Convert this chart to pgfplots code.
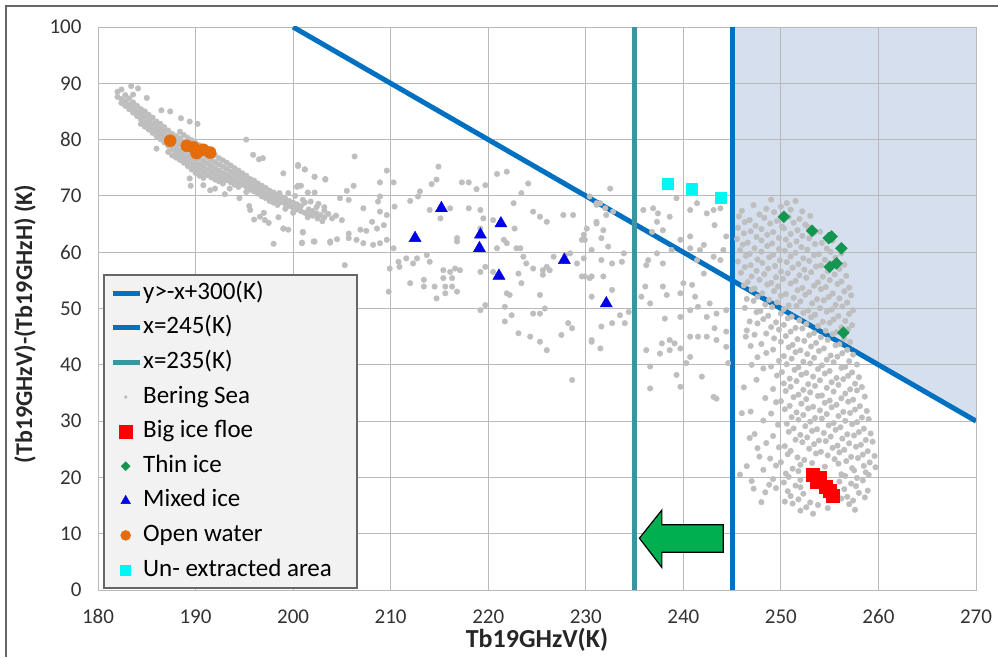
\documentclass[border=0pt]{standalone}
\usepackage{fontspec}
\setmainfont{Carlito}
\usepackage{pgfplots}
\pgfplotsset{compat=1.18}

\definecolor{dotgray}{RGB}{190,190,190}
\definecolor{lineblue}{RGB}{0,112,192}
\definecolor{lineteal}{RGB}{60,148,160}
\definecolor{shade}{RGB}{213,223,237}
\definecolor{floe}{RGB}{255,0,0}
\definecolor{thin}{RGB}{20,150,80}
\definecolor{mixed}{RGB}{0,0,230}
\definecolor{water}{RGB}{228,108,10}
\definecolor{unext}{RGB}{0,245,245}
\definecolor{arrowgreen}{RGB}{0,176,80}
\definecolor{legfill}{RGB}{242,242,242}

\begin{document}
\begin{tikzpicture}
\draw[gray!80!black, line width=1.2pt] (-92pt,-67pt) -- (-92pt,584pt) -- (900pt,584pt);
\begin{axis}[
    set layers,
    scale only axis,
    width=878pt, height=563pt,
    xmin=180, xmax=270, ymin=0, ymax=100,
    xtick={180,190,...,270}, ytick={0,10,...,100},
    grid=major,
    grid style={gray!55, line width=0.9pt},
    axis line style={gray!55, line width=0.9pt},
    major tick length=0pt,
    /pgf/number format/assume math mode=true,
    tick label style={font=\fontsize{21}{25}\selectfont, text=black!80},
    xticklabel style={yshift=-16pt},
    yticklabel style={xshift=-13pt},
    xlabel={\textbf{Tb19GHzV(K)}},
    ylabel={\textbf{(Tb19GHzV)-(Tb19GHzH) (K)}},
    label style={text=black!85},
    xlabel style={font=\fontsize{26}{30}\selectfont, at={(axis description cs:0.5,-0.0888)}, anchor=center},
    ylabel style={font=\fontsize{24}{28}\selectfont, at={(axis description cs:-0.0831,0.4725)}, anchor=center},
    legend image code/.code={\draw[mark repeat=2,mark phase=2,#1] plot coordinates {(0pt,0pt) (13pt,0pt) (27pt,0pt)};},
    legend cell align=left,
    legend style={at={(axis description cs:0.0068,0.5595)}, anchor=north west,
        draw=none, fill=none, inner xsep=6pt, inner ysep=7pt, row sep=12.6pt,
        font=\fontsize{25}{30}\selectfont,
        nodes={inner xsep=1pt, inner ysep=0pt, text height=17pt, text depth=5pt}},
]

% shaded region x>245 and y>-x+300
\addplot[fill=shade, draw=none, forget plot, on layer=axis background]
    coordinates {(245,55) (270,30) (270,100) (245,100)} --cycle;

\addplot[lineblue, line width=5pt] coordinates {(200,100) (270,30)};
\addplot[lineblue, line width=5pt] coordinates {(245,0) (245,100)};
\addplot[lineteal, line width=5pt] coordinates {(235,0) (235,100)};

% Bering Sea
\addplot[only marks, mark=*, mark size=2.8pt, color=dotgray,
    legend image post style={mark size=1.6pt}] coordinates {
(182.0,88.5)(182.0,87.6)(182.4,88.9)(182.4,87.2)(182.4,86.5)(182.8,87.9)(182.8,86.8)(182.8,86.0)
(183.2,87.3)(183.2,86.2)(183.2,85.4)(183.6,86.6)(183.6,85.6)(183.6,84.8)(183.6,88.0)(184.0,86.0)
(184.0,85.0)(184.0,84.2)(184.4,85.4)(184.4,84.5)(184.4,83.6)(184.4,82.8)(184.8,85.0)(184.8,84.0)
(184.8,83.0)(184.8,82.3)(185.2,84.4)(185.2,83.4)(185.2,82.5)(185.2,81.8)(185.6,83.9)(185.6,82.9)
(185.6,82.0)(185.6,81.2)(186.0,83.2)(186.0,82.3)(186.0,81.5)(186.0,80.6)(186.4,82.8)(186.4,81.8)
(186.4,81.0)(186.4,80.1)(186.8,82.2)(186.8,81.3)(186.8,80.4)(186.8,79.5)(187.2,81.6)(187.2,80.6)
(187.2,79.8)(187.2,78.9)(187.2,77.8)(187.6,81.0)(187.6,80.1)(187.6,79.2)(187.6,78.3)(187.6,77.2)
(188.0,80.6)(188.0,79.6)(188.0,78.6)(188.0,77.7)(188.0,76.8)(188.4,81.4)(188.4,80.2)(188.4,79.2)
(188.4,78.1)(188.4,77.2)(188.4,76.4)(188.8,80.8)(188.8,79.6)(188.8,78.6)(188.8,77.6)(188.8,76.6)
(188.8,75.9)(189.2,80.3)(189.2,79.1)(189.2,78.0)(189.2,77.0)(189.2,76.1)(189.2,75.3)(189.6,79.9)
(189.6,78.8)(189.6,77.6)(189.6,76.6)(189.6,75.6)(189.6,74.7)(190.0,79.4)(190.0,78.3)(190.0,77.1)
(190.0,76.0)(190.0,75.0)(190.0,74.1)(190.4,79.0)(190.4,77.8)(190.4,76.7)(190.4,75.6)(190.4,74.6)
(190.4,73.6)(190.8,78.5)(190.8,77.3)(190.8,76.2)(190.8,75.2)(190.8,74.2)(190.8,73.2)(191.2,78.1)
(191.2,76.9)(191.2,75.8)(191.2,74.7)(191.2,73.7)(191.6,77.6)(191.6,76.4)(191.6,75.3)(191.6,74.3)
(191.6,73.3)(192.0,77.2)(192.0,76.0)(192.0,74.9)(192.0,73.9)(192.0,72.9)(192.4,76.7)(192.4,75.6)
(192.4,74.5)(192.4,73.5)(192.4,72.6)(192.8,76.3)(192.8,75.2)(192.8,74.1)(192.8,73.1)(192.8,72.2)
(193.2,75.9)(193.2,74.8)(193.2,73.7)(193.2,72.8)(193.6,75.4)(193.6,74.3)(193.6,73.3)(193.6,72.4)
(194.0,74.9)(194.0,73.9)(194.0,72.9)(194.0,72.0)(194.4,74.5)(194.4,73.5)(194.4,72.5)(194.4,71.6)
(194.8,74.0)(194.8,73.0)(194.8,72.0)(195.2,73.6)(195.2,72.6)(195.2,71.6)(195.2,70.7)(195.6,73.0)
(195.6,72.1)(195.6,71.1)(196.0,72.7)(196.0,71.7)(196.0,70.8)(196.4,72.2)(196.4,71.3)(196.4,70.4)
(196.8,71.8)(196.8,70.8)(196.8,69.9)(197.2,71.4)(197.2,70.4)(197.2,69.6)(197.6,70.9)(197.6,70.0)
(197.6,69.1)(198.0,70.6)(198.0,69.7)(198.0,68.8)(198.4,70.2)(198.4,69.3)(198.4,68.4)(198.8,69.8)
(198.8,68.9)(199.2,69.5)(199.2,68.6)(199.2,67.7)(199.6,69.1)(199.6,68.2)(200.0,68.8)(200.0,67.9)
(200.0,67.0)(200.4,68.5)(200.4,67.6)(200.8,68.2)(200.8,67.3)(201.2,68.8)(201.2,67.0)(201.6,67.6)
(201.6,66.7)(202.0,67.3)(202.0,66.5)(202.4,68.0)(202.4,66.9)(202.8,66.6)(203.2,67.4)(203.2,66.2)
(203.6,66.8)(204.0,66.0)(204.4,66.5)(205.0,65.7)
(199.5,70.5)(200.2,70.0)(201.0,69.3)(201.8,69.0)(202.6,68.6)(203.2,68.0)(201.5,66.2)(202.5,66.0)(203.0,65.5)
(183.4,89.5)(185.0,87.4)(186.5,85.2)(188.5,83.8)(190.2,82.8)(186.0,78.4)(189.5,71.8)(191.5,71.0)
(193.0,70.3)(195.5,68.2)(197.0,67.0)(198.5,66.2)(196.5,76.5)(199.0,74.0)(200.8,71.8)(201.5,70.6)
(198.0,61.5)(199.5,64.0)(196.0,65.8)(197.5,65.2)(195.2,80.0)(184.1,89.1)(187.4,85.0)(189.4,83.2)
(195.9,77.3)(196.9,76.7)(200.5,75.3)(201.2,74.7)(202.2,73.4)(203.3,73.0)(200.5,71.8)(199.0,64.2)
(201.0,63.5)(202.2,61.9)(203.8,61.7)(200.9,61.7)(195.6,67.5)(196.6,66.3)(197.1,65.7)(189.4,73.1)
(190.8,71.9)(192.0,71.3)(193.5,71.3)(194.5,69.6)(198.6,70.5)
(206.3,77.0)(200.5,75.5)(201.2,74.7)(202.2,73.4)(203.3,72.9)(209.6,74.5)(208.9,72.4)(210.3,72.4)
(214.9,75.2)(214.2,72.1)(214.7,72.9)(217.3,72.4)(218.0,72.4)(218.8,71.2)(219.7,71.9)(220.9,73.9)
(221.9,74.3)(200.4,71.6)(206.2,71.8)(205.5,70.9)(202.2,70.6)(204.8,69.6)(205.7,69.3)(208.9,69.9)
(208.7,69.0)(210.4,68.1)(212.0,69.1)(213.0,70.8)(212.8,69.9)(199.0,64.2)(201.0,63.6)(200.9,61.6)
(202.1,61.9)(203.8,61.9)(204.5,62.3)(205.7,63.3)(205.7,62.5)(206.9,64.0)(207.5,63.8)(208.1,65.4)
(208.6,64.2)(209.3,64.8)(209.6,66.6)(208.9,67.2)(207.2,67.8)(206.5,62.2)(207.2,61.6)(208.2,61.3)
(208.9,61.6)(209.6,62.2)(210.3,60.7)(205.3,57.7)(209.9,57.1)(210.8,58.3)(210.9,57.4)(211.6,58.9)
(212.3,58.0)(212.7,58.9)(213.7,59.5)(214.0,58.3)(215.4,56.8)(216.1,56.5)(216.6,57.1)(217.1,56.8)
(215.4,55.4)(216.3,55.4)(212.0,54.5)(213.4,55.1)(213.4,53.9)(214.5,53.9)(215.6,53.9)(216.3,53.9)
(216.8,53.0)(214.7,51.8)(215.6,52.7)(209.8,53.0)(214.0,67.5)(215.1,66.0)(216.1,67.8)(216.8,62.5)
(216.8,61.9)(218.0,67.8)(219.2,67.5)(219.5,66.0)(219.2,64.2)(220.5,65.7)(220.9,60.7)(219.2,56.5)
(219.7,57.4)(220.5,56.5)(221.6,62.2)(221.9,61.6)(222.7,64.2)(222.9,60.7)(223.3,60.7)(223.6,59.2)
(223.9,58.0)(224.6,57.1)(225.6,56.8)(226.0,57.4)(226.3,56.8)(225.6,56.0)(226.7,59.2)(227.7,58.6)
(228.4,59.8)(229.1,58.0)(229.6,55.7)(230.6,55.7)(221.9,52.7)(222.2,52.4)(223.1,56.2)(223.4,54.5)
(225.3,52.4)(222.6,68.7)(223.4,70.5)(224.1,72.2)(224.6,67.2)(225.3,66.3)(226.0,65.4)(227.7,66.6)
(228.7,66.6)(229.8,63.1)(229.9,62.2)(227.9,59.5)(219.2,49.7)(219.7,50.6)(221.7,50.3)(222.4,48.8)
(221.7,47.7)(223.1,45.6)(224.3,45.0)(224.6,49.1)(225.3,49.1)(225.8,50.0)(225.3,44.1)(226.0,42.6)
(227.5,45.3)(228.2,47.4)(228.6,46.5)(230.6,44.4)(228.6,37.3)(231.1,65.1)(231.1,68.7)
(232.5,71.3)(231.5,68.7)(232.0,67.8)(232.1,66.6)(231.1,65.4)(231.8,63.9)(230.1,64.2)(229.6,62.2)
(231.6,62.5)(232.3,61.0)(230.6,60.4)(229.8,58.9)(231.6,58.6)(232.7,58.0)(233.7,58.3)(233.9,59.8)
(229.9,55.7)(231.8,55.7)(230.4,55.4)(232.7,53.3)(230.6,52.1)(233.5,48.8)(232.7,47.4)(234.0,47.4)
(231.6,46.8)(230.6,44.1)(231.5,42.9)(234.4,49.4)(230.4,69.9)(231.1,68.4)(232.8,67.2)
(235.9,67.5)(236.9,67.8)(237.4,66.9)(237.3,65.4)(237.9,63.9)(236.8,63.6)(238.6,66.3)(239.3,69.6)
(240.7,67.5)(241.4,68.7)(242.4,66.9)(243.1,67.5)(243.8,67.8)(243.2,64.8)(244.4,62.8)(240.7,62.8)
(239.7,62.2)(238.8,60.4)(237.3,59.8)(236.4,58.6)(236.2,57.7)(237.9,58.0)(240.7,60.7)(241.7,60.4)
(242.1,61.3)(241.4,58.6)(243.1,59.2)(243.8,58.6)(244.1,60.4)(242.1,56.2)(240.9,54.2)(240.0,54.5)
(237.9,53.9)(236.1,53.9)(235.7,52.1)(236.6,50.9)(238.3,52.4)(239.7,52.7)(241.2,52.1)(241.5,50.3)
(242.7,50.9)(243.4,49.1)(244.4,49.7)(242.4,48.5)(240.7,49.7)(239.7,48.5)(238.1,48.2)(237.8,43.8)
(238.6,44.4)(239.1,43.8)(237.6,42.0)(238.6,42.6)(239.7,42.9)(240.7,45.0)(241.5,45.0)(242.4,45.0)
(243.2,46.5)(243.4,44.4)(244.4,45.9)(244.4,43.2)(240.7,41.4)(240.3,40.3)(239.3,38.2)(241.9,37.9)
(239.7,36.1)(236.6,35.8)(243.4,34.0)(243.1,34.3)(244.6,40.3)(236.6,39.7)(236.2,42.6)
(249.0,69.35)(250.6,68.7)(251.5,69.1)
(247.2,68.35)(248.5,67.7)(250.0,68.1)(251.0,67.55)
(246.0,67.35)(247.8,66.7)(249.3,67.1)(250.4,66.55)(252.2,67.25)
(245.7,66.35)(246.8,65.7)(248.3,66.1)(249.6,65.55)(250.8,66.25)(251.9,65.9)(253.0,66.45)
(246.3,65.35)(247.4,64.7)(248.9,65.1)(250.1,64.55)(251.3,65.25)(252.5,64.9)
(245.6,64.35)(246.9,63.7)(248.0,64.1)(249.2,63.55)(250.3,64.25)(251.7,63.9)(252.8,64.45)(254.0,63.65)
(246.2,63.35)(247.5,62.7)(248.6,63.1)(249.8,62.55)(251.0,63.25)(252.2,62.9)(253.4,63.45)
(245.5,62.35)(246.6,61.7)(248.0,62.1)(249.1,61.55)(250.5,62.25)(251.6,61.9)(252.9,62.45)(254.2,61.65)(255.3,62.05)
(246.1,61.35)(247.3,60.7)(248.6,61.1)(249.8,60.55)(250.9,61.25)(252.1,60.9)(253.5,61.45)(254.7,60.65)
(245.8,60.35)(246.8,59.7)(248.0,60.1)(249.2,59.55)(250.4,60.25)(251.5,59.9)(252.7,60.45)(253.9,59.65)(255.1,60.05)(256.2,59.8)
(246.4,59.35)(247.6,58.7)(248.8,59.1)(249.9,58.55)(251.0,59.25)(252.3,58.9)(253.4,59.45)(254.5,58.65)(255.6,59.05)
(245.6,58.35)(246.9,57.7)(248.1,58.1)(249.4,57.55)(250.6,58.25)(251.8,57.9)(252.9,58.45)(254.1,57.65)(255.3,58.05)(256.5,57.8)
(246.3,57.35)(247.5,56.7)(248.7,57.1)(250.0,56.55)(251.2,57.25)(252.4,56.9)(253.6,57.45)(254.8,56.65)(256.0,57.05)
(245.9,56.35)(247.0,55.7)(248.3,56.1)(249.5,55.55)(250.7,56.25)(251.9,55.9)(253.1,56.45)(254.3,55.65)(255.5,56.05)(256.7,55.8)
(246.6,54.7)(247.8,55.1)(249.0,54.55)(250.2,55.25)(251.5,54.9)(252.6,55.45)(253.8,54.65)(255.0,55.05)(256.2,54.8)
(246.2,54.1)(247.3,53.55)(248.6,54.25)(249.7,53.9)(251.0,54.45)(252.2,53.65)(253.4,54.05)(254.6,53.8)(255.8,54.35)(257.0,53.7)
(247.0,53.35)(248.1,52.7)(249.3,53.1)(250.5,52.55)(251.7,53.25)(252.9,52.9)(254.1,53.45)(255.3,52.65)(256.5,53.05)
(246.5,51.7)(247.6,52.1)(248.8,51.55)(250.0,52.25)(251.3,51.9)(252.5,52.45)(253.7,51.65)(254.9,52.05)(256.0,51.8)(257.2,52.35)
(247.2,51.35)(248.4,50.7)(249.6,51.1)(250.8,50.55)(252.0,51.25)(253.2,50.9)(254.4,51.45)(255.6,50.65)(256.8,51.05)
(246.3,50.1)(247.9,49.55)(249.1,50.25)(250.3,49.9)(251.6,50.45)(252.8,49.65)(254.0,50.05)(255.2,49.8)(256.3,50.35)(257.4,49.7)
(247.5,49.35)(248.7,48.7)(250.0,49.1)(251.1,48.55)(252.3,49.25)(253.5,48.9)(254.7,49.45)(255.9,48.65)(257.0,49.05)
(246.8,47.7)(248.2,48.1)(249.5,47.55)(250.7,48.25)(251.9,47.9)(253.1,48.45)(254.3,47.65)(255.4,48.05)(256.6,47.8)
(247.6,47.35)(249.0,46.7)(250.3,47.1)(251.5,46.55)(252.6,47.25)(253.8,46.9)(255.0,47.45)(256.2,46.65)(257.3,47.05)
(246.5,46.1)(248.5,45.55)(249.8,46.25)(251.0,45.9)(252.2,46.45)(253.4,45.65)(254.6,46.05)(255.7,45.8)(256.9,46.35)
(247.3,45.35)(249.3,44.7)(250.5,45.1)(251.7,44.55)(252.9,45.25)(254.1,44.9)(255.3,45.45)(256.5,44.65)
(248.0,43.7)(250.0,44.1)(251.2,43.55)(252.4,44.25)(253.6,43.9)(254.8,44.45)(256.0,43.65)(257.1,44.05)
(246.9,43.35)(249.2,42.7)(250.8,43.1)(252.0,42.55)(253.1,43.25)(254.4,42.9)(255.6,43.45)(256.8,42.65)
(248.5,42.1)(250.3,41.55)(251.5,42.25)(252.7,41.9)(253.9,42.45)(255.1,41.65)(256.3,42.05)(257.4,41.8)
(247.6,41.35)(249.8,40.7)(251.1,41.1)(252.3,40.55)(253.4,41.25)(254.7,40.9)(255.8,41.45)(257.0,40.65)
(249.0,39.7)(250.6,40.1)(251.8,39.55)(253.0,40.25)(254.2,39.9)(255.4,40.45)(256.6,39.65)(257.8,40.05)
(248.2,39.35)(250.1,38.7)(251.4,39.1)(252.6,38.55)(253.8,39.25)(255.0,38.9)(256.2,39.45)(257.3,38.65)
(249.6,38.1)(250.9,37.55)(252.1,38.25)(253.3,37.9)(254.5,38.45)(255.7,37.65)(256.9,38.05)(258.0,37.8)
(247.5,37.35)(250.3,36.7)(251.6,37.1)(252.8,36.55)(254.0,37.25)(255.2,36.9)(256.4,37.45)(257.6,36.65)
(249.2,35.7)(251.0,36.1)(252.3,35.55)(253.5,36.25)(254.7,35.9)(255.9,36.45)(257.1,35.65)(258.3,36.05)
(250.5,35.35)(251.8,34.7)(253.0,35.1)(254.2,34.55)(255.4,35.25)(256.6,34.9)(257.8,35.45)
(248.4,34.1)(250.0,33.55)(251.3,34.25)(252.6,33.9)(253.8,34.45)(255.0,33.65)(256.2,34.05)(257.4,33.8)(258.6,34.35)
(249.5,33.35)(250.9,32.7)(252.1,33.1)(253.3,32.55)(254.5,33.25)(255.7,32.9)(256.9,33.45)(258.1,32.65)
(246.9,31.7)(250.4,32.1)(251.6,31.55)(252.8,32.25)(254.0,31.9)(255.2,32.45)(256.4,31.65)(257.6,32.05)(258.8,31.8)
(249.0,31.35)(251.1,30.7)(252.3,31.1)(253.5,30.55)(254.7,31.25)(255.9,30.9)(257.1,31.45)(258.3,30.65)
(248.2,30.1)(250.6,29.55)(251.8,30.25)(253.0,29.9)(254.2,30.45)(255.4,29.65)(256.6,30.05)(257.8,29.8)(259.0,30.35)
(249.7,29.35)(251.3,28.7)(252.5,29.1)(253.7,28.55)(254.9,29.25)(256.1,28.9)(257.3,29.45)(258.5,28.65)
(247.3,27.7)(250.8,28.1)(252.0,27.55)(253.2,28.25)(254.4,27.9)(255.6,28.45)(256.8,27.65)(258.0,28.05)(259.2,27.8)
(249.2,27.35)(251.5,26.7)(252.7,27.1)(253.9,26.55)(255.1,27.25)(256.3,26.9)(257.5,27.45)(258.7,26.65)
(248.5,26.1)(250.4,25.55)(252.2,26.25)(253.4,25.9)(254.6,26.45)(255.8,25.65)(257.0,26.05)(258.2,25.8)(259.4,26.35)
(249.8,25.35)(251.0,24.7)(252.9,25.1)(254.1,24.55)(255.3,25.25)(256.5,24.9)(257.7,25.45)(258.9,24.65)
(247.8,23.7)(250.7,24.1)(251.7,23.55)(253.6,24.25)(254.8,23.9)(256.0,24.45)(257.2,23.65)(258.4,24.05)(259.6,23.8)
(248.9,23.35)(250.0,22.7)(252.4,23.1)(253.2,22.55)(255.5,23.25)(256.7,22.9)(257.9,23.45)(259.1,22.65)
(249.5,22.1)(251.2,21.55)(252.0,22.25)(254.5,21.9)(255.9,22.45)(257.3,21.65)(258.5,22.05)(259.7,21.8)
(248.2,21.35)(250.5,20.7)(251.8,21.1)(256.2,20.55)(257.5,21.25)(258.7,20.9)
(249.2,19.7)(250.8,20.1)(252.0,19.55)(256.6,20.25)(257.8,19.9)(259.0,20.45)
(247.0,19.35)(248.8,18.7)(250.3,19.1)(251.5,18.55)(256.0,19.25)(257.2,18.9)(258.4,19.45)
(249.5,18.1)(250.7,17.55)(252.0,18.25)(256.5,17.9)(257.7,18.45)(258.9,17.65)
(248.4,17.35)(251.0,16.7)(252.3,17.1)(256.8,16.55)(258.0,17.25)
(250.4,15.7)(251.8,16.1)(253.0,15.55)(256.2,16.25)(257.4,15.9)(258.6,16.45)
(251.2,15.35)(252.6,14.7)(253.8,15.1)(254.8,14.55)(257.0,15.25)
(252.0,14.1)(253.3,13.55)(257.6,14.25)
(246.0,31.4)(246.8,27.0)(247.6,25.2)(246.5,22.0)(247.2,18.0)(248.0,15.6)(246.2,36.0)(245.8,20.5)(246.4,45.0)(247.0,40.0)
};

% Big ice floe
\addplot[only marks, mark=square*, mark size=6.5pt, color=floe] coordinates {
(253.3,20.4)(253.7,19.3)(254.0,20.0)(254.6,18.4)(255.0,17.6)(255.3,16.7)
};

% Thin ice
\addplot[only marks, mark=square*, mark size=4.2pt, color=thin,
    mark options={rotate=45}, legend image post style={mark size=3.2pt}] coordinates {
(250.3,66.3)(253.2,63.8)(254.9,62.5)(255.2,62.8)(256.2,60.7)(255.7,58.0)(255.0,57.4)(256.4,45.7)
};

% Mixed ice
\addplot[only marks, mark=triangle*, mark size=7pt, color=mixed,
    legend image post style={mark size=5.5pt}] coordinates {
(215.2,67.8)(212.5,62.5)(219.2,63.1)(219.1,60.7)(221.3,65.1)(221.1,55.8)(227.8,58.6)(232.1,50.9)
};

% Open water
\addplot[only marks, mark=*, mark size=6pt, color=water,
    legend image post style={mark size=5pt}] coordinates {
(187.4,79.8)(189.1,78.9)(189.8,78.6)(190.1,77.6)(190.8,78.2)(191.5,77.7)
};

% Un-extracted area
\addplot[only marks, mark=square*, mark size=5.5pt, color=unext,
    legend image post style={mark size=5pt}] coordinates {
(238.4,72.2)(240.9,71.2)(243.8,69.7)
};

% arrow from x=245 towards x=235
\addplot[fill=arrowgreen, draw=black, line width=1.2pt, forget plot] coordinates {
(235.5,9.2) (237.8,14.2) (237.8,11.6) (244.1,11.6) (244.1,6.7) (237.8,6.7) (237.8,4.0)
} --cycle;

\draw[draw=gray!80!black, fill=legfill, line width=1.2pt]
    (axis cs:180.62,55.95) rectangle (axis cs:206.55,0.36);

\legend{y>-x+300(K), x=245(K), x=235(K), Bering Sea, Big ice floe, Thin ice, Mixed ice, Open water, Un- extracted area}
\end{axis}
\pgfresetboundingbox
\path (-98pt,-67pt) rectangle (900pt,590pt);
\end{tikzpicture}
\end{document}
